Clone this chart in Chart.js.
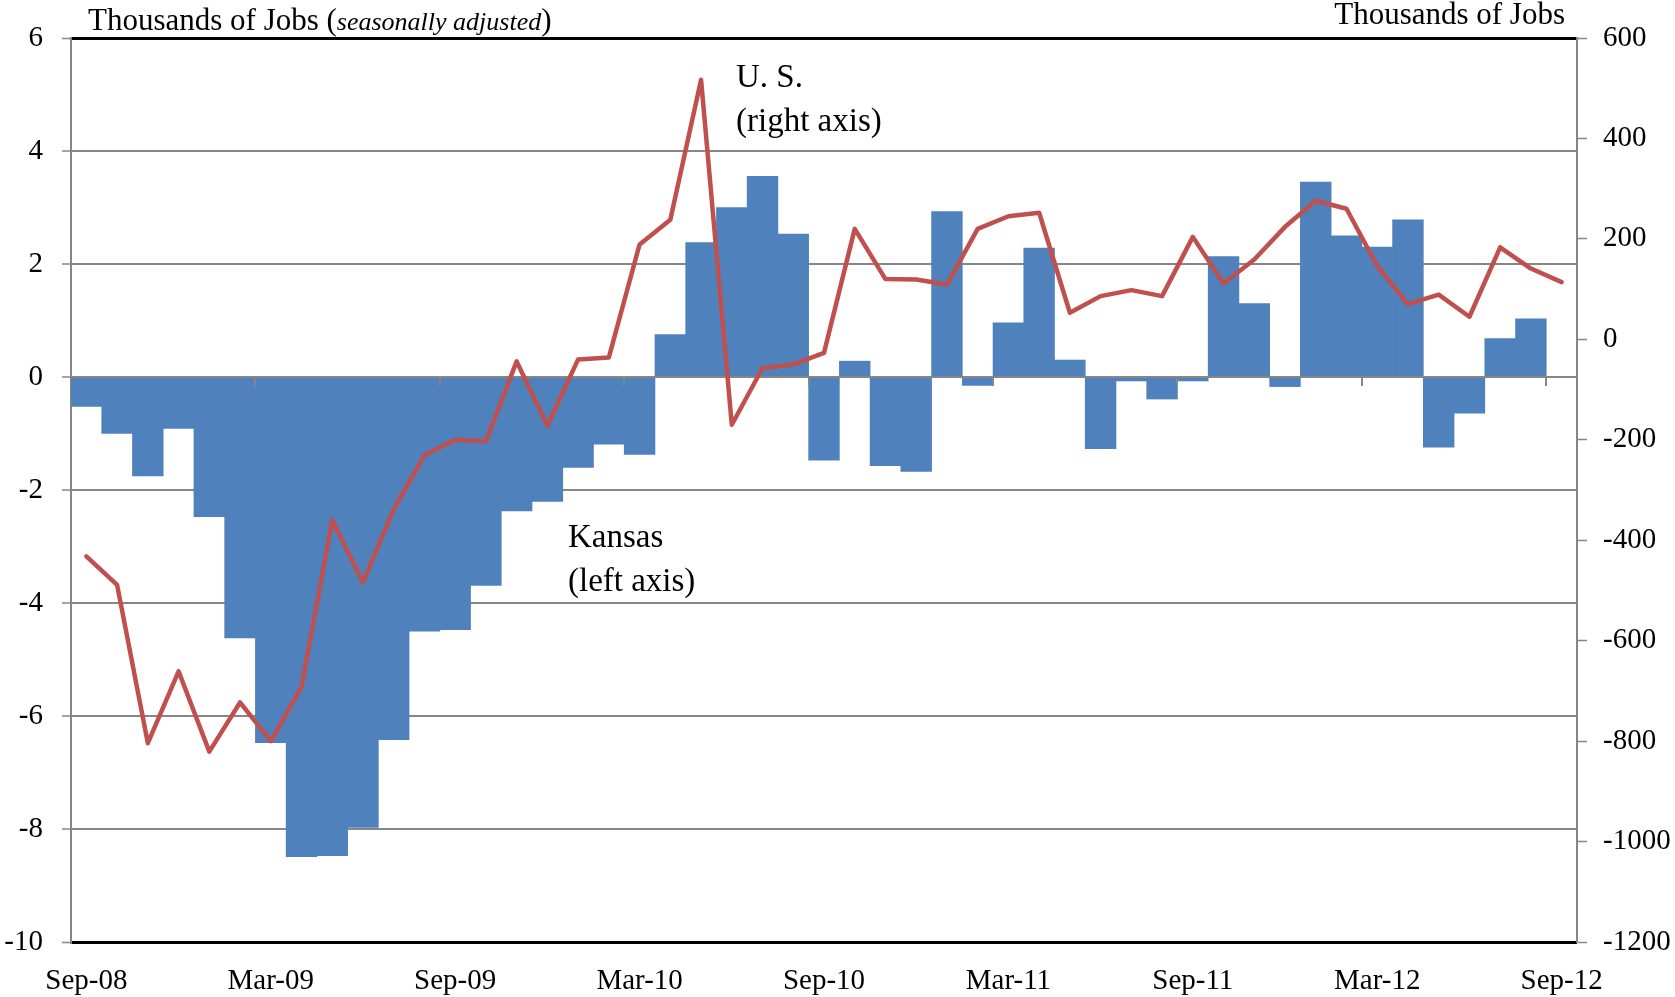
<!DOCTYPE html>
<html lang="en">
<head>
    <meta charset="UTF-8">
    <title>Kansas and U.S. job changes</title>
    <script src="https://cdn.jsdelivr.net/npm/chart.js"></script>
    <style>
        body { margin: 0; background: #fff; }
        #wrap { width: 1675px; height: 997px; }
    </style>
</head>
<body>
    <div id="wrap">
        <canvas id="jobsChart"></canvas>
    </div>

    <script>
        // monthly change, thousands of jobs
        var months = ['Sep-08', 'Oct-08', 'Nov-08', 'Dec-08', 'Jan-09', 'Feb-09', 'Mar-09', 'Apr-09', 'May-09', 'Jun-09',
            'Jul-09', 'Aug-09', 'Sep-09', 'Oct-09', 'Nov-09', 'Dec-09', 'Jan-10', 'Feb-10', 'Mar-10', 'Apr-10',
            'May-10', 'Jun-10', 'Jul-10', 'Aug-10', 'Sep-10', 'Oct-10', 'Nov-10', 'Dec-10', 'Jan-11', 'Feb-11',
            'Mar-11', 'Apr-11', 'May-11', 'Jun-11', 'Jul-11', 'Aug-11', 'Sep-11', 'Oct-11', 'Nov-11', 'Dec-11',
            'Jan-12', 'Feb-12', 'Mar-12', 'Apr-12', 'May-12', 'Jun-12', 'Jul-12', 'Aug-12', 'Sep-12'];

        var kansas = [-0.52, -1.00, -1.75, -0.91, -2.47, -4.62, -6.47, -8.49, -8.47, -7.97,
            -6.42, -4.50, -4.47, -3.69, -2.37, -2.20, -1.60, -1.19, -1.37, 0.75,
            2.38, 3.00, 3.55, 2.53, -1.47, 0.28, -1.57, -1.67, 2.93, -0.15,
            0.96, 2.28, 0.30, -1.27, -0.07, -0.39, -0.07, 2.13, 1.30, -0.17,
            3.45, 2.50, 2.30, 2.78, -1.24, -0.64, 0.68, 1.03, null];

        var us = [-432, -489, -804, -661, -821, -723, -800, -692, -360, -484,
            -338, -231, -200, -203, -44, -172, -40, -36, 189, 238,
            517, -170, -57, -50, -27, 220, 120, 119, 109, 220,
            245, 252, 53, 86, 98, 86, 204, 111, 159, 224,
            276, 260, 146, 70, 89, 45, 183, 141, 114];

        var leftTicks = { min: -10, max: 6, step: 2 };
        var rightTicks = { min: -1200, max: 600, step: 200 };

        var serif = '"Liberation Serif", "DejaVu Serif", serif';
        var gridGrey = '#868686';

        // zero line + half-year tick marks, drawn over the bars but under the line
        var zeroAxis = {
            id: 'zeroAxis',
            afterDatasetDraw: function (chart, args) {
                if (args.meta.type !== 'bar') return;
                var c = chart.ctx, xs = chart.scales.x, ys = chart.scales.y;
                var y0 = Math.round(ys.getPixelForValue(0));
                c.save();
                c.strokeStyle = gridGrey;
                c.lineWidth = 2;
                c.beginPath();
                c.moveTo(chart.chartArea.left, y0);
                c.lineTo(chart.chartArea.right, y0);
                for (var i = 6; i < months.length; i += 6) {
                    var x = Math.round((xs.getPixelForValue(i - 1) + xs.getPixelForValue(i)) / 2);
                    c.moveTo(x, y0);
                    c.lineTo(x, y0 + 9);
                }
                c.stroke();
                c.restore();
            }
        };

        var labels = {
            id: 'labels',
            afterDraw: function (chart) {
                var c = chart.ctx;
                c.save();
                c.fillStyle = '#000';
                c.textBaseline = 'alphabetic';

                // left axis title with italic part
                var x = 88, y = 30;
                var parts = [['Thousands of Jobs (', '31px '], ['seasonally adjusted', 'italic 26px '], [')', '31px ']];
                parts.forEach(function (p) {
                    c.font = p[1] + serif;
                    c.fillText(p[0], x, y);
                    x += c.measureText(p[0]).width;
                });

                c.font = '31px ' + serif;
                c.textAlign = 'right';
                c.fillText('Thousands of Jobs', 1565, 24);

                c.textAlign = 'left';
                c.font = '33px ' + serif;
                c.fillText('U. S.', 736, 87);
                c.fillText('(right axis)', 736, 131);
                c.fillText('Kansas', 568, 547);
                c.fillText('(left axis)', 568, 591);
                c.restore();
            }
        };

        var ctx = document.getElementById('jobsChart').getContext('2d');
        var jobsChart = new Chart(ctx, {
            type: 'bar',
            data: {
                labels: months,
                datasets: [
                    {
                        type: 'line',
                        label: 'U. S.',
                        data: us,
                        yAxisID: 'y1',
                        order: 0,
                        borderColor: '#C0504D',
                        borderWidth: 4.5,
                        borderJoinStyle: 'round',
                        borderCapStyle: 'round',
                        pointRadius: 0,
                        tension: 0
                    },
                    {
                        label: 'Kansas',
                        data: kansas,
                        yAxisID: 'y',
                        order: 1,
                        backgroundColor: '#4F81BD',
                        barPercentage: 1,
                        categoryPercentage: 1
                    }
                ]
            },
            options: {
                responsive: true,
                maintainAspectRatio: false,
                animation: false,
                layout: { padding: { top: 38, left: 0, right: 0, bottom: 0 } },
                plugins: {
                    legend: { display: false },
                    tooltip: { enabled: false }
                },
                scales: {
                    x: {
                        grid: { display: false },
                        border: { display: false },
                        ticks: {
                            autoSkip: false,
                            maxRotation: 0,
                            padding: 14,
                            color: '#000',
                            font: { family: serif, size: 29 },
                            callback: function (v, i) {
                                return i % 6 === 0 ? months[i] : '';
                            }
                        },
                        afterFit: function (s) { s.height = 55; }
                    },
                    y: {
                        position: 'left',
                        min: leftTicks.min,
                        max: leftTicks.max,
                        ticks: {
                            stepSize: leftTicks.step,
                            padding: 19,
                            color: '#000',
                            font: { family: serif, size: 29 }
                        },
                        grid: {
                            color: function (c) {
                                var v = c.tick ? c.tick.value : 0;
                                return (v === leftTicks.min || v === leftTicks.max) ? '#000' : gridGrey;
                            },
                            lineWidth: function (c) {
                                var v = c.tick ? c.tick.value : 0;
                                return (v === leftTicks.min || v === leftTicks.max) ? 3 : 2;
                            },
                            tickLength: 9,
                            tickColor: gridGrey,
                            tickWidth: 1.5
                        },
                        border: { color: gridGrey, width: 2 },
                        afterFit: function (s) { s.width = 71; }
                    },
                    y1: {
                        position: 'right',
                        min: rightTicks.min,
                        max: rightTicks.max,
                        ticks: {
                            stepSize: rightTicks.step,
                            padding: 16,
                            color: '#000',
                            font: { family: serif, size: 29 },
                            callback: function (v) { return String(v); }
                        },
                        grid: {
                            drawOnChartArea: false,
                            tickLength: 10,
                            tickColor: gridGrey,
                            tickWidth: 1.5
                        },
                        border: { color: gridGrey, width: 2 },
                        afterFit: function (s) { s.width = 98; }
                    }
                }
            },
            plugins: [zeroAxis, labels]
        });
    </script>
</body>
</html>
